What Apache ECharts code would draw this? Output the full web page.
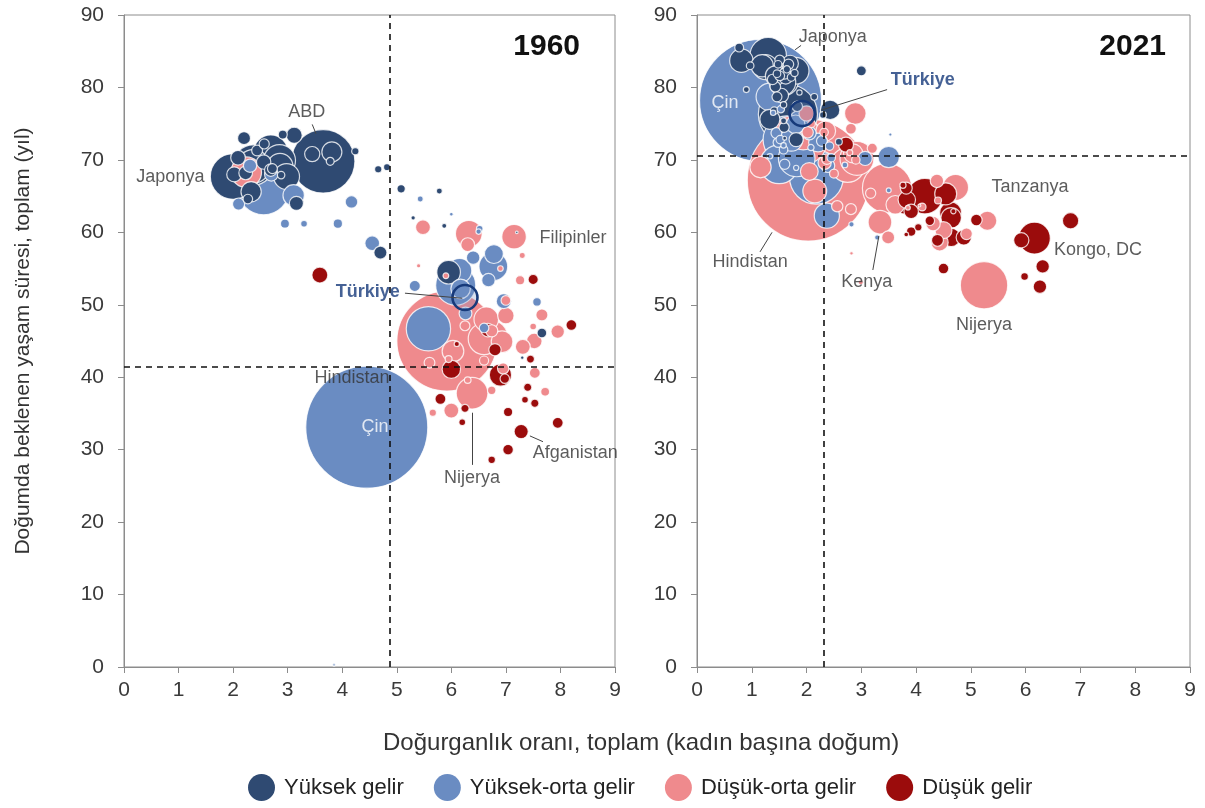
<!DOCTYPE html>
<html>
<head>
<meta charset="utf-8">
<title>Doğurganlık ve yaşam süresi, 1960 ve 2021</title>
<script src="https://cdn.jsdelivr.net/npm/echarts@6/dist/echarts.min.js"></script>
<style>
  html, body { margin: 0; padding: 0; background: #fff; }
  #chart { width: 1205px; height: 808px; }
</style>
</head>
<body>
<div id="chart"></div>
<script>
  // [doğurganlık, yaşam süresi, nüfus (milyon)]
  const high1960 = [
    [3.65, 69.8, 181], [2.00, 67.7, 93], [2.37, 69.3, 73], [2.69, 71.1, 52], [2.85, 69.9, 46],
    [2.37, 69.1, 50], [2.86, 69.1, 30], [2.98, 67.7, 30], [5.95, 54.5, 25], [3.81, 71.1, 18],
    [2.33, 65.6, 18.4], [3.45, 70.8, 10.3], [3.12, 73.4, 11.5], [2.56, 69.7, 9.2], [2.09, 70.3, 9.6],
    [2.02, 68.0, 10.0], [3.16, 64.0, 8.9], [2.23, 68.2, 8.3], [2.20, 73.0, 7.5], [2.69, 68.6, 7.0],
    [2.44, 71.3, 5.3], [2.57, 72.2, 4.6], [2.72, 68.8, 4.4], [2.91, 73.5, 3.6], [3.78, 69.8, 2.8],
    [4.24, 71.2, 2.4], [4.70, 57.2, 7.7], [4.82, 69.0, 2.1], [5.08, 66.0, 3.1], [7.66, 46.1, 4.2],
    [2.88, 67.9, 2.5], [2.27, 64.6, 4.1], [4.66, 68.7, 2.4], [5.78, 65.7, 1.6], [5.30, 62.0, 0.85],
    [5.87, 60.9, 1.1], [7.20, 60.0, 0.3], [7.30, 42.7, 0.55]
  ];
  const upper1960 = [
    [4.45, 33.1, 667], [6.08, 52.7, 72], [5.58, 46.7, 88], [2.56, 66.0, 120], [6.77, 55.3, 37],
    [6.15, 54.7, 27], [6.17, 52.2, 17], [6.78, 57.0, 16], [3.11, 65.1, 20.5], [6.96, 50.5, 10],
    [6.40, 56.5, 8.2], [6.26, 48.8, 7.3], [4.17, 64.2, 7.1], [4.55, 58.5, 9.7], [6.68, 53.4, 8.1],
    [5.33, 52.6, 5.5], [6.60, 46.8, 4.1], [2.31, 69.2, 7.9], [2.10, 63.9, 6.6], [2.70, 68.0, 8.2],
    [2.95, 61.2, 3.6], [3.30, 61.2, 2.0], [3.92, 61.2, 3.9], [7.57, 50.4, 3.3], [6.52, 60.5, 1.9],
    [5.43, 64.6, 1.6], [6.50, 60.1, 1.3], [6.00, 62.5, 0.6], [3.85, 0.3, 0.3]
  ];
  const lower1960 = [
    [5.92, 45.0, 450], [6.60, 45.3, 45], [6.73, 45.6, 48], [6.38, 37.8, 45], [6.64, 48.0, 27],
    [7.15, 59.4, 27], [6.32, 59.8, 32], [6.93, 44.9, 21], [6.03, 43.6, 21], [2.24, 68.3, 42],
    [7.00, 48.5, 12], [7.52, 45.0, 11], [5.48, 60.7, 9.9], [6.74, 46.4, 6.7], [6.30, 58.3, 8.5],
    [7.95, 46.3, 8.1], [7.31, 44.2, 10], [5.60, 42.0, 5.2], [7.53, 40.6, 5.3], [7.72, 38.0, 3.5],
    [6.74, 38.2, 3.2], [6.60, 42.3, 3.7], [7.26, 53.4, 3.8], [7.00, 50.6, 4.2], [7.66, 48.6, 6.5],
    [6.00, 35.4, 10], [6.95, 41.2, 5.7], [5.95, 42.5, 2.1], [6.30, 39.6, 2.0], [7.50, 47.0, 2.0],
    [6.90, 55.0, 1.4], [5.90, 54.0, 1.5], [7.30, 56.8, 1.7], [6.25, 47.1, 4.4], [5.40, 55.4, 0.8],
    [5.66, 35.1, 2.4]
  ];
  const low1960 = [
    [6.90, 40.3, 22.2], [6.00, 41.1, 15.2], [6.67, 46.5, 8.3], [7.50, 53.5, 4.6], [8.20, 47.2, 5.2],
    [7.28, 32.5, 9.0], [7.95, 33.7, 5.3], [7.04, 30.0, 5.0], [6.74, 28.6, 2.5], [7.53, 36.4, 3.0],
    [7.04, 35.2, 3.8], [6.25, 35.7, 3.0], [6.20, 33.8, 2.0], [6.98, 39.8, 4.0], [3.59, 54.1, 11.4],
    [7.45, 42.5, 2.9], [6.80, 43.8, 6.8], [5.80, 37.0, 5.3], [7.40, 38.6, 3.0], [6.10, 44.6, 1.2],
    [7.35, 36.9, 2.0]
  ];

  const high2021 = [
    [1.30, 84.4, 125.7], [1.66, 76.3, 332], [1.58, 80.9, 83], [1.56, 80.7, 67], [1.80, 82.3, 68],
    [1.25, 82.8, 59], [0.81, 83.7, 52], [1.19, 83.0, 47], [1.33, 75.6, 38], [1.43, 81.6, 38],
    [2.43, 76.9, 36], [1.70, 83.3, 26], [1.54, 78.9, 19.5], [1.81, 72.8, 19], [1.62, 81.4, 17.5],
    [1.60, 81.9, 11.6], [1.67, 83.2, 10.4], [1.83, 77.4, 10.5], [1.43, 80.1, 10.6], [1.38, 81.1, 10.3],
    [1.59, 74.5, 9.7], [3.00, 82.3, 9.4], [1.46, 78.7, 9.4], [1.51, 81.6, 9.0], [1.51, 83.8, 8.7],
    [0.77, 85.5, 7.4], [1.72, 81.4, 5.9], [1.46, 81.9, 5.5], [1.41, 76.8, 5.4], [1.48, 83.2, 5.4],
    [0.97, 83.0, 5.5], [2.30, 76.2, 4.35], [2.59, 72.5, 4.5], [1.78, 82.0, 5.0], [1.64, 82.5, 5.1],
    [2.14, 78.7, 4.3], [1.58, 75.4, 3.4], [1.58, 77.6, 3.9], [1.87, 79.3, 2.7], [0.90, 79.7, 3.3],
    [1.60, 73.0, 1.4]
  ];
  const upper2021 = [
    [1.16, 78.2, 1412], [2.18, 67.6, 274], [1.64, 72.8, 214], [1.50, 69.4, 143], [1.82, 70.2, 127],
    [1.33, 78.7, 72], [2.37, 62.3, 60], [1.72, 72.8, 51], [1.89, 75.4, 45.8], [3.50, 70.4, 43.5],
    [2.21, 72.4, 33.7], [1.80, 74.9, 33.6], [3.07, 70.2, 19.0], [2.05, 73.7, 17.8], [2.39, 69.2, 17.6],
    [1.45, 73.7, 11.3], [2.28, 72.6, 11.1], [1.60, 69.4, 10.1], [1.48, 72.4, 9.3], [1.52, 72.8, 6.8],
    [1.58, 71.4, 6.9], [2.08, 71.7, 3.7], [1.58, 72.0, 2.8], [2.45, 70.3, 6.7], [3.29, 59.3, 2.5],
    [2.82, 61.1, 2.6], [3.50, 65.8, 2.3], [2.42, 71.9, 6.7], [1.33, 70.5, 2.8], [1.53, 77.0, 5.2],
    [1.39, 76.5, 2.8], [1.81, 68.9, 2.6], [3.53, 73.5, 1.0], [2.70, 69.3, 3.0]
  ];
  const lower2021 = [
    [2.03, 67.2, 1408], [3.47, 66.1, 231], [5.24, 52.7, 213], [1.98, 72.4, 169], [2.75, 69.3, 114],
    [2.92, 70.2, 109], [1.94, 73.6, 98], [1.69, 73.9, 87], [4.72, 66.2, 64], [3.34, 61.4, 53],
    [2.15, 65.7, 54], [1.16, 69.0, 43], [2.89, 76.4, 44], [2.35, 74.0, 37], [2.85, 70.9, 34.9],
    [5.30, 61.6, 34.5], [3.62, 63.8, 32.8], [2.05, 68.4, 30], [4.50, 60.3, 27.2], [4.43, 58.6, 27.5],
    [2.00, 76.4, 22], [4.31, 61.2, 19.5], [4.38, 67.1, 17.0], [3.49, 59.3, 16.0], [2.33, 69.6, 16.6],
    [2.56, 63.6, 12.1], [2.02, 73.8, 12.3], [4.92, 59.8, 12.9], [2.81, 63.2, 11.4], [2.37, 70.1, 10.3],
    [3.20, 71.6, 9.8], [3.17, 65.4, 9.9], [2.50, 68.1, 7.4], [2.90, 70.0, 6.7], [2.32, 73.8, 6.9],
    [4.11, 63.5, 5.8], [4.40, 64.4, 4.6], [2.09, 75.0, 5.6], [2.81, 74.3, 11.1], [2.79, 71.0, 3.3],
    [2.99, 53.1, 2.3], [2.82, 57.1, 1.2], [3.85, 63.4, 2.2], [4.06, 63.7, 0.8]
  ];
  const low2021 = [
    [6.16, 59.2, 95.9], [4.16, 65.0, 120], [4.63, 62.7, 45.9], [4.54, 65.3, 45.7], [4.64, 62.0, 40.1],
    [3.80, 63.8, 32.9], [4.64, 59.3, 32.1], [3.83, 64.5, 28.9], [6.82, 61.6, 25.3], [4.87, 59.3, 22.1],
    [5.92, 58.9, 21.9], [3.91, 62.9, 19.9], [6.26, 52.5, 17.2], [6.31, 55.3, 17.1], [2.72, 72.1, 21.3],
    [4.39, 58.9, 13.5], [3.82, 66.1, 13.5], [5.10, 61.7, 12.6], [4.50, 55.0, 10.7], [4.25, 61.6, 8.6],
    [3.91, 60.1, 8.4], [4.04, 60.7, 5.2], [5.98, 53.9, 5.5], [4.68, 62.9, 2.6], [3.82, 59.7, 2.1],
    [3.76, 66.5, 3.6]
  ];

  const turkey1960 = [6.25, 51.0, 28];
  const turkey2021 = [1.92, 76.4, 60];

  // dünya ortalamaları (kesikli çizgiler)
  const avg1960 = [4.87, 41.5];
  const avg2021 = [2.32, 70.6];

  const notes1960 = [
    [3.35, 76.6, 'ABD'], [0.85, 67.6, 'Japonya'], [8.23, 59.2, 'Filipinler'],
    [4.47, 51.8, 'Türkiye'], [4.18, 39.9, 'Hindistan'], [4.6, 33.1, 'Çin'],
    [6.38, 26.1, 'Nijerya'], [8.27, 29.5, 'Afganistan']
  ];
  const leaders1960 = [
    [[3.45, 74.9], [3.52, 73.6]], [[5.15, 51.6], [6.2, 50.9]],
    [[6.38, 35.1], [6.38, 27.9]], [[7.44, 31.9], [7.68, 31.1]]
  ];
  const notes2021 = [
    [2.48, 87.0, 'Japonya'], [4.12, 81.0, 'Türkiye'], [0.51, 77.9, 'Çin'],
    [0.97, 55.9, 'Hindistan'], [3.1, 53.1, 'Kenya'], [6.08, 66.3, 'Tanzanya'],
    [7.32, 57.6, 'Kongo, DC'], [5.24, 47.2, 'Nijerya']
  ];
  const leaders2021 = [
    [[1.79, 85.2], [1.9, 85.8]], [[2.28, 76.9], [3.47, 79.7]],
    [[1.15, 57.3], [1.37, 60.0]], [[3.21, 54.8], [3.32, 59.5]]
  ];

  const groupNames = ['Yüksek gelir', 'Yüksek-orta gelir', 'Düşük-orta gelir', 'Düşük gelir'];
  const groupColors = ['#2f4a72', '#6a8cc2', '#ef8a8d', '#9b0c0c'];

  const FONT = '"Liberation Sans", Arial, sans-serif';
  const MAX_R = 61;

  function bubbles(groups) {
    const all = [];
    groups.forEach((g, i) => {
      g.forEach(d => all.push({ value: d, itemStyle: { color: groupColors[i] } }));
    });
    all.sort((a, b) => b.value[2] - a.value[2]);
    return all;
  }

  function sizer(maxPop) {
    return val => Math.max(2.5, 2 * MAX_R * Math.sqrt(val[2] / maxPop));
  }

  function panelSeries(idx, groups, turkey, avg, notes, leaders) {
    const maxPop = Math.max(...groups.map(g => Math.max(...g.map(d => d[2]))));
    const size = sizer(maxPop);
    return [
      {
        type: 'scatter',
        xAxisIndex: idx, yAxisIndex: idx,
        data: bubbles(groups),
        symbolSize: size,
        itemStyle: { borderColor: 'rgba(255,255,255,0.8)', borderWidth: 1.2, opacity: 1 },
        silent: true,
        z: 2
      },
      {
        type: 'scatter',
        xAxisIndex: idx, yAxisIndex: idx,
        data: [turkey],
        symbolSize: size,
        itemStyle: { color: 'rgba(106,140,194,0.25)', borderColor: '#173a7a', borderWidth: 2.6, opacity: 1 },
        silent: true,
        z: 4,
        markLine: {
          silent: true,
          symbol: 'none',
          label: { show: false },
          lineStyle: { type: [6, 5], color: '#111', width: 1.6 },
          data: [{ xAxis: avg[0] }, { yAxis: avg[1] }]
        }
      },
      {
        type: 'lines',
        coordinateSystem: 'cartesian2d',
        xAxisIndex: idx, yAxisIndex: idx,
        data: leaders.map(c => ({ coords: c })),
        lineStyle: { color: '#444', width: 1, opacity: 1 },
        silent: true,
        z: 5
      },
      {
        type: 'scatter',
        xAxisIndex: idx, yAxisIndex: idx,
        symbolSize: 0,
        silent: true,
        z: 6,
        data: notes.map(n => {
          const item = { value: [n[0], n[1]], name: n[2] };
          if (n[2] === 'Türkiye') item.label = { color: '#173a7a', fontWeight: 'bold' };
          if (n[2] === 'Çin') item.label = { color: '#fff' };
          return item;
        }),
        label: {
          show: true, position: 'inside', formatter: '{b}',
          fontFamily: FONT, fontSize: 18, color: '#333'
        }
      }
    ];
  }

  function xAxis(idx) {
    return {
      type: 'value', gridIndex: idx, min: 0, max: 9, interval: 1,
      axisLine: { show: true, lineStyle: { color: '#8c8c8c' } },
      axisTick: { show: true, length: 6, lineStyle: { color: '#8c8c8c' } },
      axisLabel: { fontFamily: FONT, fontSize: 21, color: '#3a3a3a', margin: 13 },
      splitLine: { show: false }
    };
  }
  function yAxis(idx) {
    const ax = {
      type: 'value', gridIndex: idx, min: 0, max: 90, interval: 10,
      axisLine: { show: true, lineStyle: { color: '#8c8c8c' } },
      axisTick: { show: true, length: 6, lineStyle: { color: '#8c8c8c' } },
      axisLabel: { fontFamily: FONT, fontSize: 21, color: '#3a3a3a', margin: 20 },
      splitLine: { show: false }
    };
    if (idx === 0) {
      ax.name = 'Doğumda beklenen yaşam süresi, toplam (yıl)';
      ax.nameLocation = 'middle';
      ax.nameGap = 90;
      ax.nameTextStyle = { fontFamily: FONT, fontSize: 21, color: '#333' };
    }
    return ax;
  }

  const chart = echarts.init(document.getElementById('chart'), null, { renderer: 'canvas' });

  const legendSeries = groupNames.map((n, i) => ({
    name: n, type: 'scatter', data: [], itemStyle: { color: groupColors[i], opacity: 1 }
  }));

  const yearStyle = { fontFamily: FONT, fontSize: 30, fontWeight: 'bold', color: '#111' };

  chart.setOption({
    animation: false,
    backgroundColor: '#fff',
    textStyle: { fontFamily: FONT },
    title: [
      { text: '1960', right: 620, top: 27, textStyle: yearStyle },
      { text: '2021', right: 34, top: 27, textStyle: yearStyle }
    ],
    grid: [
      { left: 124, top: 15, width: 491, height: 652, show: true, borderColor: '#8c8c8c', borderWidth: 1 },
      { left: 697, top: 15, width: 493, height: 652, show: true, borderColor: '#8c8c8c', borderWidth: 1 }
    ],
    xAxis: [xAxis(0), xAxis(1)],
    yAxis: [yAxis(0), yAxis(1)],
    legend: {
      data: groupNames,
      bottom: 2,
      left: 243,
      icon: 'circle',
      itemWidth: 27,
      itemHeight: 27,
      itemGap: 30,
      itemStyle: { opacity: 1 },
      textStyle: { fontFamily: FONT, fontSize: 22, color: '#222', padding: [0, 0, 0, 4] }
    },
    graphic: [{
      type: 'text',
      left: 383,
      top: 731,
      style: { text: 'Doğurganlık oranı, toplam (kadın başına doğum)', fontFamily: FONT, fontSize: 24, fill: '#333' }
    }],
    series: [
      ...panelSeries(0, [high1960, upper1960, lower1960, low1960], turkey1960, avg1960, notes1960, leaders1960),
      ...panelSeries(1, [high2021, upper2021, lower2021, low2021], turkey2021, avg2021, notes2021, leaders2021),
      ...legendSeries
    ]
  });
</script>
</body>
</html>
